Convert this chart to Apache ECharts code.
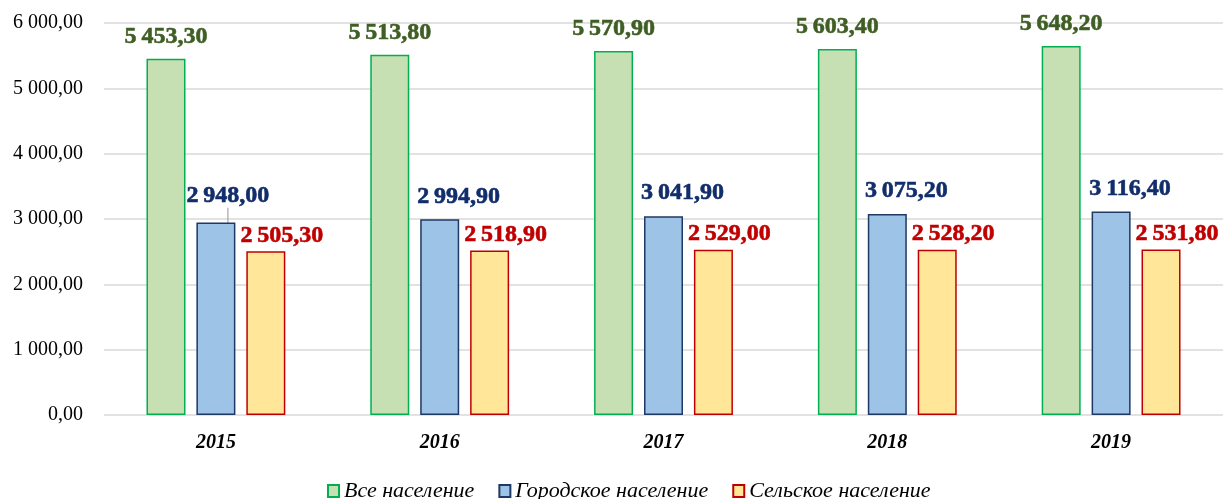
<!DOCTYPE html>
<html><head><meta charset="utf-8">
<script src="https://cdn.jsdelivr.net/npm/echarts@6/dist/echarts.min.js"></script>
<style>html,body{margin:0;padding:0;background:#fff}#c{width:1227px;height:499px}</style>
</head><body><div id="c"></div>
<script>
var categories = ['2015','2016','2017','2018','2019'];
var seriesNames = ['Все население','Городское население','Сельское население'];
var allPop = [5453.30, 5513.80, 5570.90, 5603.40, 5648.20];
var urbanPop = [2948.00, 2994.90, 3041.90, 3075.20, 3116.40];
var ruralPop = [2505.30, 2518.90, 2529.00, 2528.20, 2531.80];

function fmt(v){
  var s = v.toFixed(2).split('.');
  var i = s[0].replace(/\B(?=(\d{3})+(?!\d))/g, '\u2009');
  return i + ',' + s[1];
}
function fmtAxis(v){
  var s = v.toFixed(2).split('.');
  var i = s[0].replace(/\B(?=(\d{3})+(?!\d))/g, ' ');
  return i + ',' + s[1];
}
var FONT = '"Liberation Serif", "Times New Roman", serif';
var urbanData = urbanPop.map(function(v, i){
  return i === 0 ? {value: v, labelLine: {show: true}} : {value: v};
});
function lbl(color){
  return {fontFamily:FONT, fontWeight:700, fontSize:24, color:color,
          textBorderColor:color, textBorderWidth:0.6};
}
var chart = echarts.init(document.getElementById('c'));
chart.setOption({
  animation:false,
  grid:{left:104,right:4,top:23,bottom:84,containLabel:false},
  legend:{
    top:475, left:322, icon:'rect', itemWidth:11, itemHeight:12, itemGap:24,
    textStyle:{fontFamily:FONT, fontStyle:'italic', fontSize:22, color:'#000'},
    data:seriesNames
  },
  xAxis:{
    type:'category', data:categories,
    axisLine:{show:false}, axisTick:{show:false},
    axisLabel:{fontFamily:FONT, fontStyle:'italic', fontWeight:'bold', fontSize:20, color:'#000', margin:18}
  },
  yAxis:{
    type:'value', min:0, max:6000, interval:1000,
    axisLine:{show:false}, axisTick:{show:false},
    splitLine:{lineStyle:{color:'#d9d9d9', width:1.5}},
    axisLabel:{fontFamily:FONT, fontSize:20, color:'#000', margin:21, formatter:function(v){return fmtAxis(v);}}
  },
  series:[
    {name:seriesNames[0], type:'bar', data:allPop, barWidth:39, barGap:'28%',
     itemStyle:{color:'#c6e0b4', borderColor:'#00b050', borderWidth:1.5},
     label:Object.assign({show:true, position:'top', distance:10, formatter:function(p){return fmt(p.value);}}, lbl('#3f5e24'))},
    {name:seriesNames[1], type:'bar', data:urbanData, barWidth:39,
     itemStyle:{color:'#9dc3e6', borderColor:'#1f3864', borderWidth:1.5},
     label:Object.assign({show:true, position:'top', distance:11, formatter:function(p){return fmt(p.value);}}, lbl('#112d6b')),
     labelLine:{show:false, lineStyle:{color:'#a6a6a6', width:1.2}},
     labelLayout:function(p){ if(p.dataIndex===0){return {dx:12, dy:-4};} return {dx:19, dy:0}; }},
    {name:seriesNames[2], type:'bar', data:ruralPop, barWidth:39,
     itemStyle:{color:'#ffe699', borderColor:'#c00000', borderWidth:1.5},
     label:Object.assign({show:true, position:'top', distance:4, offset:[16,0], formatter:function(p){return fmt(p.value);}}, lbl('#c00000'))}
  ]
});
</script></body></html>
